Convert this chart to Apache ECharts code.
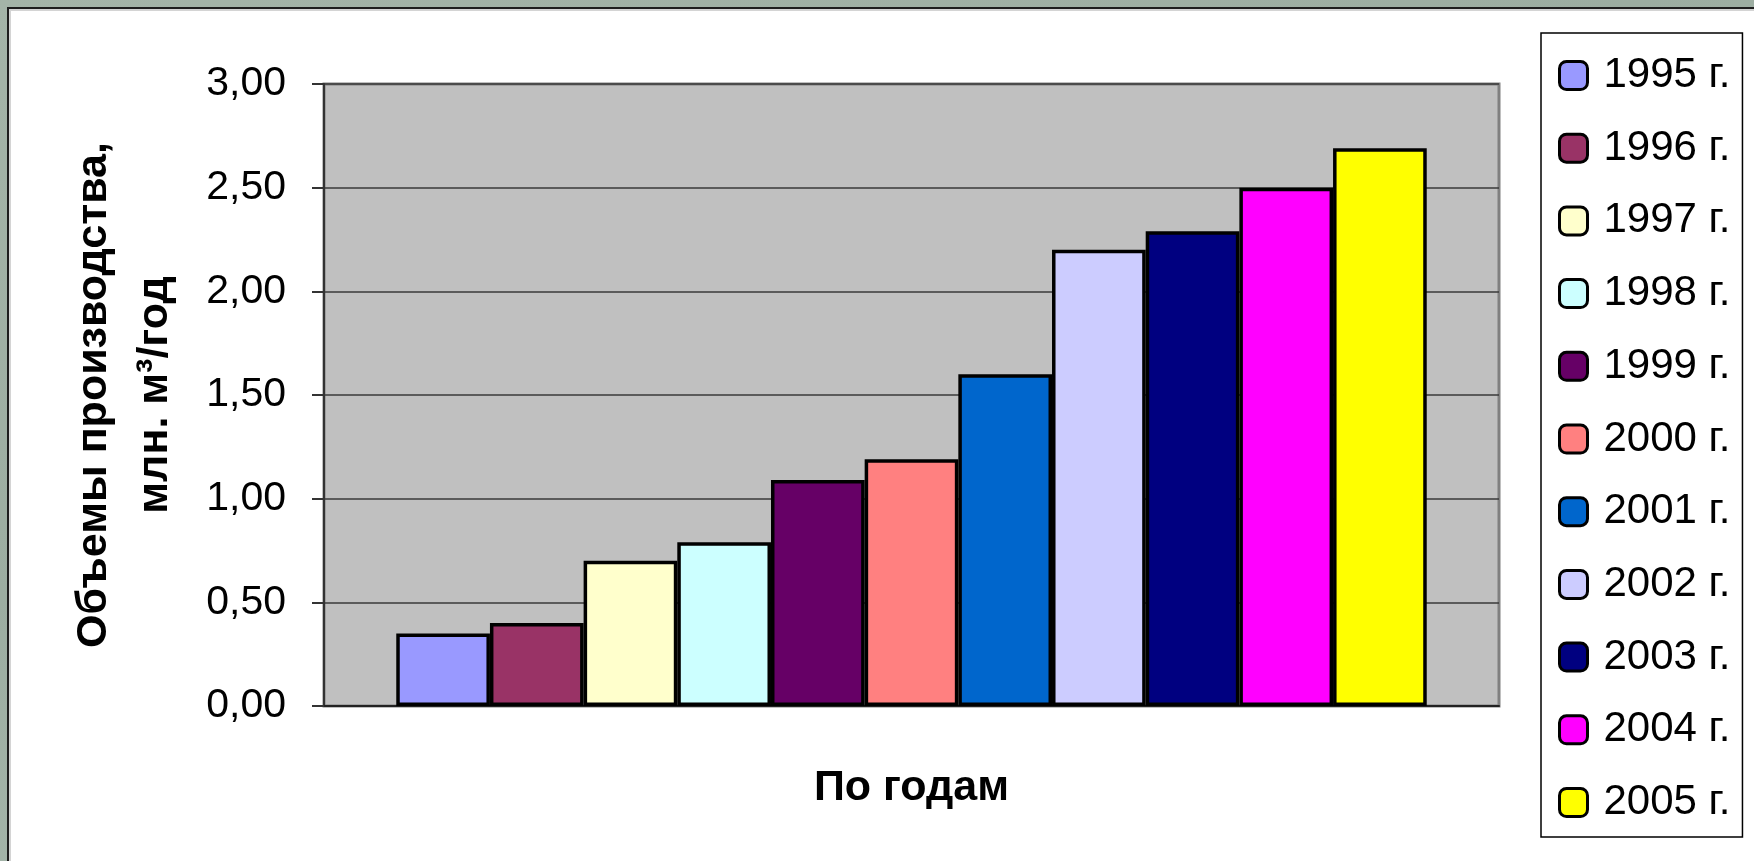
<!DOCTYPE html>
<html lang="ru">
<head>
<meta charset="utf-8">
<title>Объемы производства по годам</title>
<script src="https://cdn.jsdelivr.net/npm/echarts@6/dist/echarts.min.js"></script>
<style>
  html, body { margin: 0; padding: 0; width: 1754px; height: 861px; overflow: hidden; }
  body {
    position: relative;
    background-color: #a0b1a5;
    background-image: linear-gradient(160deg, #a4b4a8 0%, #9cada1 40%, #a8b8ad 70%, #9aab9f 100%);
  }
  #panel {
    position: absolute; left: 7px; top: 7px; width: 1760px; height: 870px;
    background: #ffffff; border-left: 2px solid #1e1e1e; border-top: 2px solid #1e1e1e;
    box-shadow: inset 2px 2px 0 #d4d4d4;
  }
  #chart { position: absolute; left: 0; top: 0; width: 1754px; height: 861px; }
</style>
</head>
<body>
<div id="panel"></div>
<div id="chart"></div>
<script>
// Production volumes, mln m³ per year
const years = ['1995 г.', '1996 г.', '1997 г.', '1998 г.', '1999 г.', '2000 г.',
               '2001 г.', '2002 г.', '2003 г.', '2004 г.', '2005 г.'];
const volumes = [0.35, 0.40, 0.70, 0.79, 1.09, 1.19, 1.60, 2.20, 2.29, 2.50, 2.69];
const colors = ['#9999FF', '#993366', '#FFFFCC', '#CCFFFF', '#660066', '#FF8080',
                '#0066CC', '#CCCCFF', '#000080', '#FF00FF', '#FFFF00'];
const yTicks = [0, 0.5, 1, 1.5, 2, 2.5, 3];
const category = ['По годам'];

const FONT = "'Liberation Sans', Arial, sans-serif";

const chart = echarts.init(document.getElementById('chart'), null, { renderer: 'canvas' });

const series = years.map((name, i) => ({
  name: name,
  type: 'bar',
  data: [volumes[i]],
  barGap: '0%',
  barCategoryGap: '12.3%',
  itemStyle: { color: colors[i], borderColor: '#000', borderWidth: 3.5 },
  emphasis: { disabled: true }
}));

chart.setOption({
  animation: false,
  backgroundColor: 'transparent',
  textStyle: { fontFamily: FONT },
  grid: {
    left: 324, right: 255, top: 84, bottom: 155,
    show: true, backgroundColor: '#c0c0c0', borderColor: '#808080', borderWidth: 3
  },
  legend: {
    orient: 'vertical', left: 1541, top: 33,
    itemWidth: 28, itemHeight: 28, itemGap: 29.7,
    padding: [21, 12, 13, 17],
    backgroundColor: '#fff', borderColor: '#000', borderWidth: 1.5,
    icon: 'roundRect',
    itemStyle: { borderColor: '#000', borderWidth: 3 },
    selectedMode: false,
    textStyle: { fontSize: 42, fontFamily: FONT, color: '#000', lineHeight: 43, padding: [0, 0, 0, 11] },
    data: years
  },
  xAxis: {
    type: 'category', data: category,
    name: 'По годам', nameLocation: 'middle', nameGap: 61,
    nameTextStyle: { fontSize: 43, fontWeight: 'bold', color: '#000', fontFamily: FONT, lineHeight: 43 },
    axisLine: { show: true, lineStyle: { color: '#222', width: 2 } },
    axisTick: { show: false },
    axisLabel: { show: false },
    splitLine: { show: false }
  },
  yAxis: {
    type: 'value', min: yTicks[0], max: yTicks[yTicks.length - 1], interval: yTicks[1] - yTicks[0],
    name: 'Объемы производства,\nмлн. м³/год', nameLocation: 'middle', nameRotate: 90, nameGap: 138,
    nameTextStyle: { fontSize: 43, fontWeight: 'bold', color: '#000', fontFamily: FONT, lineHeight: 61, align: 'center' },
    axisLine: { show: true, lineStyle: { color: '#333', width: 2 } },
    axisTick: { show: true, length: 12, lineStyle: { color: '#333', width: 2 } },
    axisLabel: {
      margin: 38, fontSize: 41, color: '#000', fontFamily: FONT,
      formatter: v => v.toFixed(2).replace('.', ',')
    },
    splitLine: { show: true, lineStyle: { color: '#3a3a3a', width: 1.5 } }
  },
  series: series
});
</script>
</body>
</html>
